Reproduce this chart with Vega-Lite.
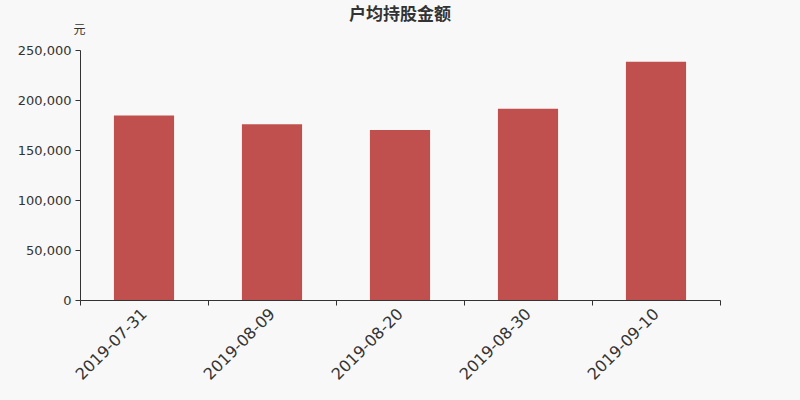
{
  "$schema": "https://vega.github.io/schema/vega-lite/v6.json",
  "width": 640,
  "height": 250,
  "autosize": {"type": "none"},
  "padding": {"left": 80, "top": 50, "right": 80, "bottom": 100},
  "background": "#f8f8f8",
  "config": {"view": {"stroke": null}},
  "title": {
    "text": "户均持股金额",
    "font": "Noto Sans CJK SC",
    "fontSize": 17,
    "fontWeight": "bold",
    "color": "#333333",
    "anchor": "middle",
    "offset": -1
  },
  "data": {
    "values": [
      {"date": "2019-07-31", "amount": 184600},
      {"date": "2019-08-09", "amount": 175700},
      {"date": "2019-08-20", "amount": 170000},
      {"date": "2019-08-30", "amount": 191300},
      {"date": "2019-09-10", "amount": 238300}
    ]
  },
  "mark": {"type": "bar", "color": "#c0504d", "width": {"band": 0.47}},
  "encoding": {
    "x": {
      "field": "date",
      "type": "nominal",
      "sort": null,
      "scale": {"paddingInner": 0, "paddingOuter": 0},
      "axis": {
        "title": null,
        "tickBand": "extent",
        "labelAngle": -45,
        "labelAlign": "right",
        "labelBaseline": "middle",
        "labelFont": "DejaVu Sans",
        "labelFontSize": 16,
        "labelColor": "#333333",
        "labelPadding": 6,
        "domainColor": "#333333",
        "tickColor": "#333333",
        "tickSize": 5
      }
    },
    "y": {
      "field": "amount",
      "type": "quantitative",
      "scale": {"domain": [0, 250000]},
      "axis": {
        "title": "元",
        "titleFont": "Noto Sans CJK SC",
        "titleFontSize": 12,
        "titleFontWeight": "normal",
        "titleColor": "#333333",
        "titleAngle": 0,
        "titleX": -1,
        "titleY": -21,
        "titleAlign": "center",
        "titleBaseline": "middle",
        "values": [0, 50000, 100000, 150000, 200000, 250000],
        "format": ",d",
        "grid": false,
        "labelFont": "DejaVu Sans",
        "labelFontSize": 13,
        "labelColor": "#333333",
        "labelPadding": 4,
        "domainColor": "#333333",
        "tickColor": "#333333",
        "tickSize": 5
      }
    }
  }
}
